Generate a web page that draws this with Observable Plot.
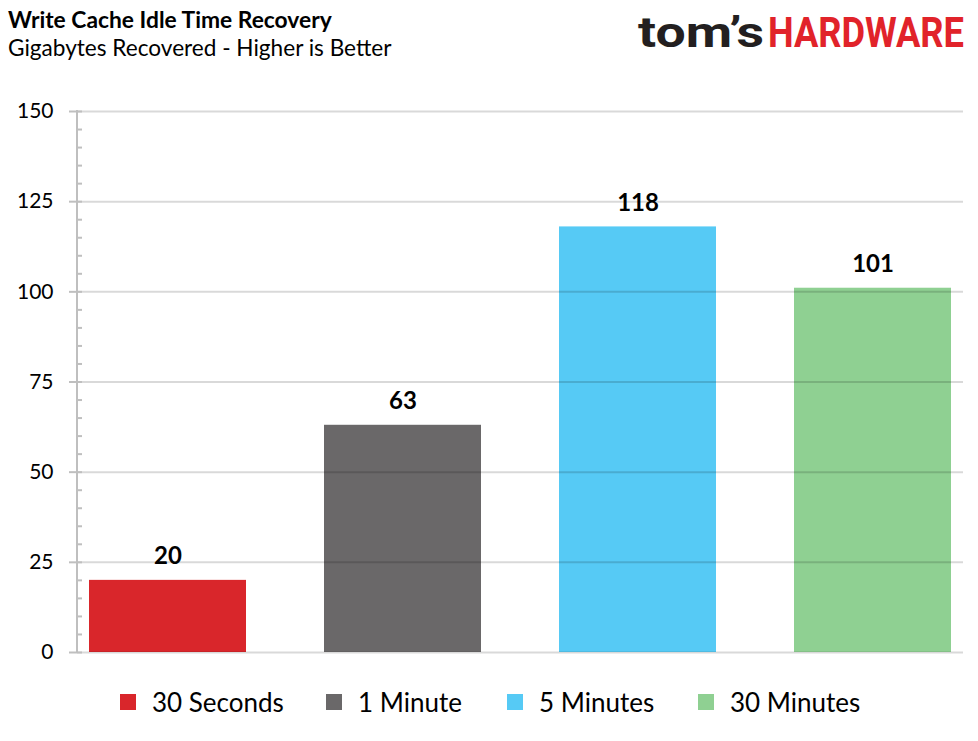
<!DOCTYPE html>
<html>
<head>
<meta charset="utf-8">
<script src="https://cdn.jsdelivr.net/npm/d3@7"></script>
<script src="https://cdn.jsdelivr.net/npm/@observablehq/plot@0.6"></script>
<style>
  body { margin: 0; background: #fff; font-family: Lato, "Open Sans", sans-serif; }
  #wrap { position: relative; width: 978px; height: 741px; overflow: hidden; }
  #header { position: relative; height: 90px; }
  #title { position: absolute; left: 8px; top: 5px; font-size: 22.8px; font-weight: 700; color: #000; white-space: nowrap; }
  #subtitle { position: absolute; left: 8px; top: 34px; font-size: 22.6px; color: #000; white-space: nowrap; }
  #logo { position: absolute; left: 636px; top: 8px; }
  #legend { position: relative; height: 60px; }
  .li { position: absolute; top: 16px; display: flex; align-items: center; font-size: 26px; color: #000; white-space: nowrap; }
  .sw { width: 16px; height: 16px; margin-right: 16px; }
</style>
</head>
<body>
<div id="wrap">
  <div id="header">
    <div id="title">Write Cache Idle Time Recovery</div>
    <div id="subtitle">Gigabytes Recovered - Higher is Better</div>
    <svg id="logo" width="340" height="50">
      <text x="2" y="39" font-family="Roboto, sans-serif" font-weight="700" font-size="43" fill="#231f20" textLength="126" lengthAdjust="spacingAndGlyphs">tom’s</text>
      <g transform="translate(132,39) scale(1,1.19)">
        <text x="0" y="0" font-family="Roboto, sans-serif" font-weight="700" font-size="36" fill="#e1232a" textLength="196" lengthAdjust="spacingAndGlyphs">HARDWARE</text>
      </g>
    </svg>
  </div>
  <div id="chart"></div>
  <div id="legend"></div>
</div>
<script>
const categories = ["30 Seconds", "1 Minute", "5 Minutes", "30 Minutes"];
const values = [20, 63, 118, 101];
const colors = ["#d9262b", "#6a6869", "#56caf5", "#8fd092"];
const yTicks = [0, 25, 50, 75, 100, 125, 150];
const yMinorTicks = d3.range(0, 151, 5);
const legendLeft = [120, 326, 507, 698];

const data = categories.map((c, i) => ({category: c, value: values[i], color: colors[i]}));

const chart = Plot.plot({
  width: 978,
  height: 580,
  marginTop: 21,
  marginBottom: 18,
  marginLeft: 77,
  marginRight: 15,
  style: {fontFamily: "Lato, 'Open Sans', sans-serif", background: "#fff", color: "#000"},
  x: {domain: categories, paddingInner: 0.334, paddingOuter: 0.047, axis: null, label: null},
  y: {domain: [0, 150], axis: null, label: null},
  marks: [
    Plot.barY(data, {x: "category", y: "value", fill: "color"}),
    Plot.gridY(yTicks, {stroke: "#000", strokeOpacity: 0.15, strokeWidth: 2}),
    Plot.axisY(yTicks, {label: null, tickSize: 8, tickPadding: 16, fontSize: 21, stroke: "#bfbfbf", strokeWidth: 2, strokeOpacity: 1, fill: "#000", tickFormat: d => d}),
    Plot.axisY(yMinorTicks, {label: null, tickSize: -5, stroke: "#bfbfbf", strokeWidth: 2, strokeOpacity: 1, tickFormat: null, text: null}),
    Plot.text(data, {x: "category", y: "value", text: d => String(d.value), lineAnchor: "bottom", dy: -16, fontSize: 24, fontWeight: 700, fill: "#000"})
  ]
});
document.getElementById("chart").appendChild(chart);

// vertical axis line at the left edge of the x range
const xr = chart.scale("x").range;
const yr = chart.scale("y").range;
d3.select(chart).append("line")
  .attr("x1", xr[0]).attr("x2", xr[0])
  .attr("y1", yr[0] + 1).attr("y2", yr[1] - 1)
  .attr("stroke", "#bfbfbf").attr("stroke-width", 2);

const legend = d3.select("#legend");
categories.forEach((c, i) => {
  const item = legend.append("div").attr("class", "li").style("left", legendLeft[i] + "px");
  item.append("div").attr("class", "sw").style("background", colors[i]);
  item.append("span").text(c);
});
</script>
</body>
</html>
